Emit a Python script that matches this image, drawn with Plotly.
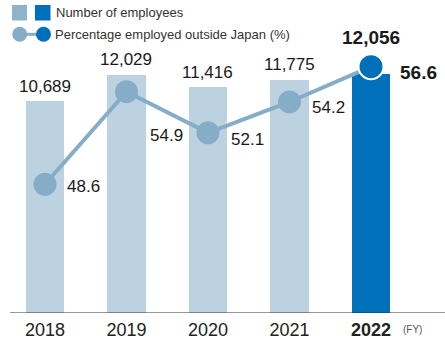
import plotly.graph_objects as go

# Fiscal years and headline figures
years = ["2018", "2019", "2020", "2021", "2022"]
employees = [10689, 12029, 11416, 11775, 12056]
pct_outside_japan = [48.6, 54.9, 52.1, 54.2, 56.6]
employee_labels = ["10,689", "12,029", "11,416", "11,775", "12,056"]
pct_labels = ["48.6", "54.9", "52.1", "54.2", "56.6"]

LIGHT_BAR = "#BDD2E1"
DARK_BAR = "#0070BA"
LINE_COL = "#86ADC7"
TEXT_COL = "#1A1A1A"
FONT = "Liberation Sans, Arial, Helvetica, sans-serif"

W, H = 445, 340
BOTTOM = 27  # pixels reserved below the baseline for the year labels
PLOT_H = H - BOTTOM

xs = list(range(len(years)))
latest = len(years) - 1

fig = go.Figure()

fig.add_trace(go.Bar(
    x=xs, y=employees, width=0.47,
    marker=dict(color=[LIGHT_BAR] * latest + [DARK_BAR], line=dict(width=0)),
    hoverinfo="skip", showlegend=False,
))

fig.add_trace(go.Scatter(
    x=xs, y=pct_outside_japan, yaxis="y2", mode="lines+markers",
    line=dict(color=LINE_COL, width=4),
    marker=dict(size=[23] * latest + [25], opacity=1,
                color=[LINE_COL] * latest + [DARK_BAR],
                line=dict(color=["rgba(0,0,0,0)"] * latest + ["white"],
                          width=[0] * latest + [2])),
    hoverinfo="skip", showlegend=False, cliponaxis=False,
))

annotations = []
# Employee counts above the bars
for i, (v, t) in enumerate(zip(employees, employee_labels)):
    is_last = i == latest
    annotations.append(dict(
        x=i, y=v, xref="x", yref="y", text=f"<b>{t}</b>" if is_last else t,
        showarrow=False, xanchor="center", yanchor="middle",
        yshift=37 if is_last else 15,
        font=dict(family=FONT, size=19 if is_last else 17, color=TEXT_COL),
    ))

# Percentage labels beside the line markers
pct_offsets = [(20, -2), (22, -44), (21, -7), (21, -6), (27, -6)]
for i, (v, t) in enumerate(zip(pct_outside_japan, pct_labels)):
    is_last = i == latest
    dx, dy = pct_offsets[i]
    annotations.append(dict(
        x=i, y=v, xref="x", yref="y2", text=f"<b>{t}</b>" if is_last else t,
        showarrow=False, xanchor="left", yanchor="middle",
        xshift=dx, yshift=dy,
        font=dict(family=FONT, size=19 if is_last else 17, color=TEXT_COL),
    ))

# Unit marker after the last year
annotations.append(dict(
    x=latest, y=0, xref="x", yref="y", text="(FY)", showarrow=False,
    xanchor="left", yanchor="top", xshift=30, yshift=-9,
    font=dict(family=FONT, size=10, color="#555555"),
))


def px(x):
    return x / W


def py(y):
    return (PLOT_H - y) / PLOT_H


shapes = [
    # Baseline
    dict(type="line", xref="paper", yref="y", x0=px(10), x1=1, y0=0, y1=0,
         line=dict(color="#333333", width=1.2)),
    # Legend swatches for the bars
    dict(type="rect", xref="paper", yref="paper", x0=px(12), x1=px(27),
         y0=py(20.5), y1=py(5), fillcolor="#8FB3CB", line=dict(width=0)),
    dict(type="rect", xref="paper", yref="paper", x0=px(35), x1=px(50.5),
         y0=py(20.5), y1=py(5), fillcolor=DARK_BAR, line=dict(width=0)),
    # Legend swatch for the line
    dict(type="line", xref="paper", yref="paper", x0=px(20), x1=px(43),
         y0=py(34.3), y1=py(34.3), line=dict(color=LINE_COL, width=3)),
    dict(type="circle", xref="paper", yref="paper", x0=px(12.2), x1=px(27.2),
         y0=py(41.8), y1=py(26.8), fillcolor=LINE_COL, line=dict(width=0)),
    dict(type="circle", xref="paper", yref="paper", x0=px(36), x1=px(51),
         y0=py(41.8), y1=py(26.8), fillcolor=DARK_BAR, line=dict(width=0)),
]

annotations += [
    dict(xref="paper", yref="paper", x=px(54), y=py(13), text="Number of employees",
         showarrow=False, xanchor="left", yanchor="middle",
         font=dict(family=FONT, size=13, color="#333333")),
    dict(xref="paper", yref="paper", x=px(53), y=py(34.3),
         text="Percentage employed outside Japan (%)",
         showarrow=False, xanchor="left", yanchor="middle",
         font=dict(family=FONT, size=13, color="#333333")),
]

ticktext = [f"<b>{y}</b>" if i == latest else y for i, y in enumerate(years)]

fig.update_layout(
    width=W, height=H,
    margin=dict(l=0, r=0, t=0, b=BOTTOM, pad=0),
    paper_bgcolor="white", plot_bgcolor="white",
    bargap=0,
    xaxis=dict(range=[-0.552, 4.908], tickvals=xs, ticktext=ticktext,
               showgrid=False, zeroline=False, showline=False, ticks="",
               ticklabelstandoff=4,
               tickfont=dict(family=FONT, size=18, color="#222222"),
               fixedrange=True),
    yaxis=dict(range=[0, 15816], visible=False, showgrid=False, fixedrange=True),
    yaxis2=dict(range=[39.845, 61.137], overlaying="y", visible=False,
                showgrid=False, fixedrange=True),
    shapes=shapes,
    annotations=annotations,
    font=dict(family=FONT),
)

fig.write_html("out.html")
